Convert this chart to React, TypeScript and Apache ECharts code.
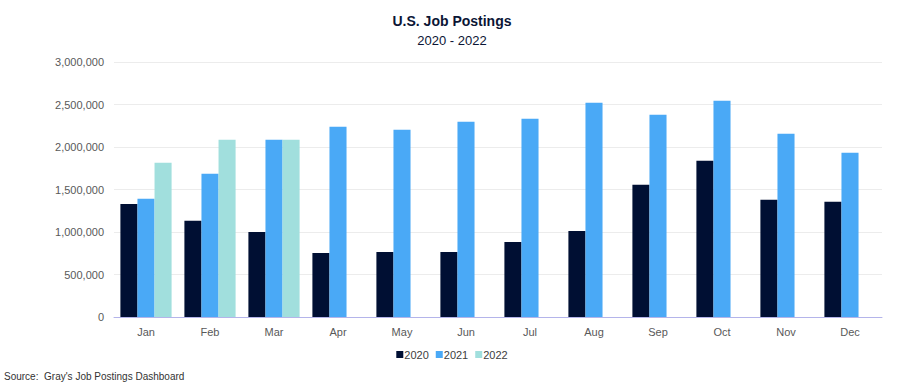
import React, { useEffect, useRef } from "react";
import * as echarts from "echarts";

const months = ["Jan", "Feb", "Mar", "Apr", "May", "Jun", "Jul", "Aug", "Sep", "Oct", "Nov", "Dec"];
const postings2020 = [1330000, 1131000, 1001000, 754000, 766000, 766000, 883000, 1013000, 1555000, 1837000, 1378000, 1355000];
const postings2021 = [1390000, 1684000, 2085000, 2238000, 2203000, 2297000, 2332000, 2521000, 2379000, 2544000, 2156000, 1932000];
const postings2022 = [1814000, 2085000, 2085000, null, null, null, null, null, null, null, null, null];

const FONT = "'Liberation Sans', Arial, Helvetica, sans-serif";

export default function App() {
  const ref = useRef<HTMLDivElement>(null);
  useEffect(() => {
    if (!ref.current) return;
    const chart = echarts.init(ref.current, undefined, { renderer: "svg" });
    chart.setOption({
      animation: false,
      backgroundColor: "#ffffff",
      textStyle: { fontFamily: FONT },
      title: [
        {
          text: "U.S. Job Postings",
          subtext: "2020 - 2022",
          left: "center",
          top: 9,
          itemGap: 6,
          textStyle: { fontFamily: FONT, fontSize: 14, fontWeight: "bold", color: "#0b1535" },
          subtextStyle: { fontFamily: FONT, fontSize: 13, color: "#0b1535" },
        },
        {
          text: "Source:  Gray's Job Postings Dashboard",
          left: 4,
          top: 371,
          padding: 0,
          textStyle: { fontFamily: FONT, fontSize: 10, fontWeight: "normal", color: "#333333" },
        },
      ],
      legend: {
        top: 344,
        left: "center",
        itemWidth: 7,
        itemHeight: 7,
        itemGap: 7,
        icon: "rect",
        textStyle: { fontFamily: FONT, fontSize: 11, color: "#404040", padding: [0, 0, 0, -4] },
        data: ["2020", "2021", "2022"],
      },
      grid: { left: 114, right: 22, top: 62, bottom: 69, containLabel: false },
      xAxis: {
        type: "category",
        data: months,
        axisLine: { lineStyle: { color: "#b4b4ea", width: 1 } },
        axisTick: { show: false },
        axisLabel: { color: "#595959", fontSize: 11, margin: 9, fontFamily: FONT },
      },
      yAxis: {
        type: "value",
        min: 0,
        max: 3000000,
        interval: 500000,
        axisLine: { show: false },
        axisTick: { show: false },
        splitLine: { lineStyle: { color: "#ececec" } },
        axisLabel: {
          color: "#595959",
          fontSize: 11,
          margin: 10,
          fontFamily: FONT,
          formatter: (v: number) => v.toLocaleString("en-US"),
        },
      },
      series: [
        { name: "2020", type: "bar", data: postings2020, itemStyle: { color: "#000f33" }, barGap: "0%", barCategoryGap: "20%" },
        { name: "2021", type: "bar", data: postings2021, itemStyle: { color: "#4aa9f6" }, barGap: "0%", barCategoryGap: "20%" },
        { name: "2022", type: "bar", data: postings2022, itemStyle: { color: "#a1dfdd" }, barGap: "0%", barCategoryGap: "20%" },
      ],
    });
    return () => chart.dispose();
  }, []);
  return <div ref={ref} style={{ position: "fixed", left: 0, top: 0, width: 904, height: 386 }} />;
}
